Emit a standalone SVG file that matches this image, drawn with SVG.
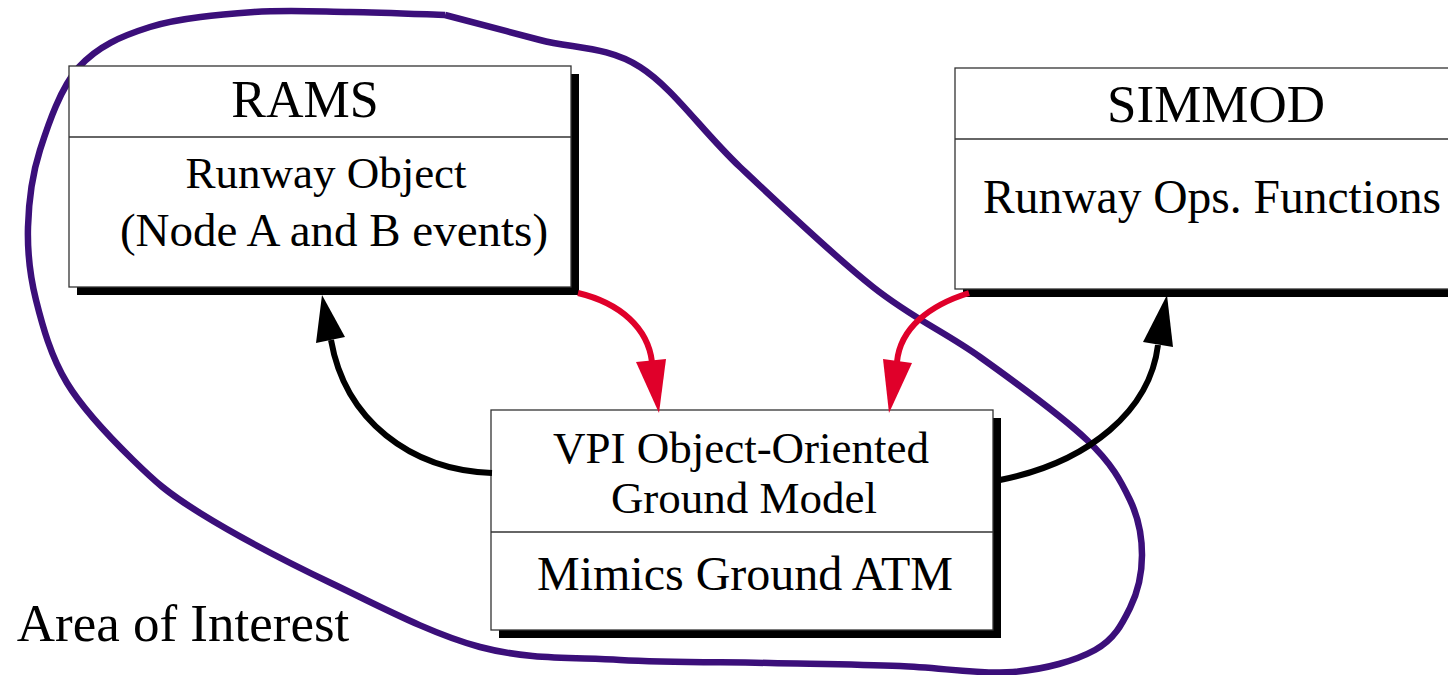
<svg xmlns="http://www.w3.org/2000/svg" width="1448" height="675" viewBox="0 0 1448 675">
<style>
.box{fill:#fff;stroke:#333;stroke-width:1.3}
.shadow{fill:#000}
.div{stroke:#333;stroke-width:1.3}
.t{font-family:"Liberation Serif","Times New Roman",serif;fill:#000;text-anchor:middle}
.title{font-size:52px}
.body{font-size:46px}
.red{fill:none;stroke:#e0002a;stroke-width:6}
.blk{fill:none;stroke:#000;stroke-width:6}
.redh{fill:#e0002a}
.blkh{fill:#000}
.area{fill:none;stroke:#3b0f7a;stroke-width:6.5;stroke-linejoin:round}
</style>
<rect width="1448" height="675" fill="#fff"/>
<g id="area-of-interest">
<path class="area" d="M445,15 C460.8,19.2 507.5,31.3 540,40 C572.5,48.7 606.7,45.8 640,67 C673.3,88.2 701.2,130.3 740,167 C778.8,203.7 833,255.3 873,287 C913,318.7 944.3,331.5 980,357 C1015.7,382.5 1062,416.2 1087,440 C1112,463.8 1120.8,480.8 1130,500 C1139.2,519.2 1142,537 1142,555 C1142,573 1137.8,592.2 1130,608 C1122.2,623.8 1114.5,639.3 1095,650 C1075.5,660.7 1045.5,669.3 1013,672 C980.5,674.7 940.5,667.5 900,666 C859.5,664.5 816.7,664 770,663 C723.3,662 668.3,662.7 620,660 C571.7,657.3 527.8,659.7 480,647 C432.2,634.3 379.7,606.3 333,584 C286.3,561.7 233.3,533.7 200,513 C166.7,492.3 155.2,481.7 133,460 C110.8,438.3 83.2,409.7 67,383 C50.8,356.3 42.5,326 36,300 C29.5,274 27.3,252 28,227 C28.7,202 31.5,176.7 40,150 C48.5,123.3 60.7,87.5 79,67 C97.3,46.5 120.8,36.2 150,27 C179.2,17.8 220.7,14.5 254,12 C287.3,9.5 318.2,11.5 350,12 C381.8,12.5 429.2,14.5 445,15"/>
<text class="t" x="183" y="641" style="font-size:53px">Area of Interest</text>
</g>
<g id="node-rams">
<rect class="shadow" x="77" y="74" width="502" height="221"/>
<rect class="box" x="69" y="66" width="502" height="221"/>
<line class="div" x1="69" y1="137" x2="571" y2="137"/>
<text class="t title" x="305" y="117">RAMS</text>
<text class="t body" x="326" y="188" style="font-size:45px">Runway Object</text>
<text class="t body" x="334" y="246" style="font-size:47px">(Node A and B events)</text>
</g>
<g id="node-simmod">
<rect class="shadow" x="963" y="76" width="540" height="221"/>
<rect class="box" x="955" y="68" width="540" height="221"/>
<line class="div" x1="955" y1="139" x2="1495" y2="139"/>
<text class="t title" x="1216" y="122" style="font-size:53px">SIMMOD</text>
<text class="t body" x="1212" y="213" style="font-size:47.5px">Runway Ops. Functions</text>
</g>
<g id="node-vpi">
<rect class="shadow" x="499" y="418" width="502" height="220"/>
<rect class="box" x="491" y="410" width="502" height="220"/>
<line class="div" x1="491" y1="532" x2="993" y2="532"/>
<text class="t body" x="741" y="463" style="font-size:45px">VPI Object-Oriented</text>
<text class="t body" x="744" y="513" style="font-size:45px">Ground Model</text>
<text class="t body" x="745" y="590" style="font-size:48px">Mimics Ground ATM</text>
</g>
<g id="connectors">
<path class="red" d="M578,293 C620,303 648,328 652,362"/>
<polygon class="redh" points="659,413 636,362 666,359"/>
<path class="red" d="M969,293 C930,305 900,328 897,362"/>
<polygon class="redh" points="889,413 883,359 912,363"/>
<path class="blk" d="M492,473 C410,470 345,420 331,340"/>
<polygon class="blkh" points="322,295 316,343 345,337"/>
<path class="blk" d="M1000,480 C1090,462 1150,410 1158,345"/>
<polygon class="blkh" points="1167,295 1143,342 1173,347"/>
</g>
</svg>
